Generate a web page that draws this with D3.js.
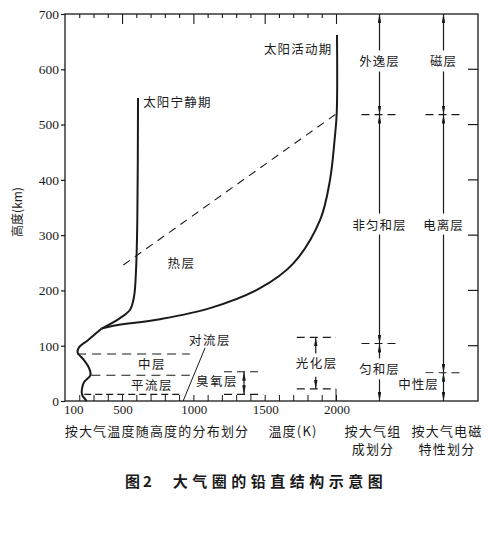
<!DOCTYPE html>
<html><head><meta charset="utf-8">
<script src="https://cdn.jsdelivr.net/npm/d3@7"></script>
<style>body{margin:0;background:#fff}</style>
</head><body><svg id="c" width="500" height="538"></svg>
<script>
// ---- data ----
const heightTicks = [0,100,200,300,400,500,600,700];
const rightFrameTicks = [100,200,300,400,500,600];
const tempLabels = [100,500,1000,1500,2000];
const tempTicks = [200,300,400,500,600,700,800,900,1000,1100,1200,1300,1400,1500,1600,1700,1800,1900,2000];
// [temperature K, height km]
const lowerProfile = [[252,0],[219,12],[219,22],[233,34],[279,47],[268,60],[233,74],[188,88],[198,97],[261,110],[357,131]];
const quietProfile = [[357,131],[486,150],[556,165],[584,189],[598,237],[607,327],[612,548]];
const activeProfile = [[357,131],[439,136],[766,148],[1117,168],[1467,204],[1701,249],[1888,327],[1958,400],[1990,472],[2005,520],[2007,662]];
const thermoDivider = [[509,246],[2005,520]];
// temperature-based boundaries: height, from T, to T
const tempBoundaries = [{h:85,t0:185,t1:975},{h:46.5,t0:285,t1:975},{h:12,t0:235,t1:905}];
const ozone = {top:53, bottom:12, t0:1215, t1:1490, tMid:1355};
const photo = {top:115, bottom:22, t0:1725, t1:2000, tMid:1858};
const tempLayerLabels = [
  {name:"热层", t:917, h:249},
  {name:"中层", t:710, h:65},
  {name:"平流层", t:710, h:27},
  {name:"对流层", t:1117, h:110},
  {name:"臭氧层", t:1166, h:35},
  {name:"光化层", t:1865, h:68}
];
const troposphereLeader = [[1082,96],[928,0]];
const columns = ["组成","电磁"];
const compositionLayers = [{name:"外逸层",lo:518,hi:700,labelH:613},{name:"非匀和层",lo:104,hi:518,labelH:318},{name:"匀和层",lo:0,hi:104,labelH:56}];
const emLayers = [{name:"磁层",lo:518,hi:700,labelH:613},{name:"电离层",lo:51,hi:518,labelH:318},{name:"中性层",lo:0,hi:51,labelH:29}];

// ---- scales ----
const svg = d3.select("#c");
const x = d3.scaleLinear().domain([100,2000]).range([65,336]);
const y = d3.scaleLinear().domain([0,700]).range([401,14]);
const colX = d3.scalePoint().domain(columns).range([379.5,443.5]);
const RIGHT = 478;
const cjk = "'Noto Sans CJK SC', sans-serif";
const serif = "'Liberation Serif', 'DejaVu Serif', serif";
const ink = "#1a1a1a";

const defs = svg.append("defs");
defs.append("marker").attr("id","ah").attr("viewBox","0 0 10 4").attr("refX",10).attr("refY",2)
  .attr("markerWidth",9).attr("markerHeight",3.6).attr("markerUnits","userSpaceOnUse")
  .attr("orient","auto-start-reverse")
  .append("path").attr("d","M0,0 L10,2 L0,4 Z").attr("fill",ink);

const g = svg.append("g");

// frame
g.append("rect").attr("x",x(100)).attr("y",y(700)).attr("width",RIGHT-x(100)).attr("height",y(0)-y(700))
  .attr("fill","none").attr("stroke",ink).attr("stroke-width",1.3);

// left axis
const yAxis = d3.axisLeft(y).tickValues(heightTicks).tickSize(4).tickPadding(2).tickFormat(d3.format("d"));
const ya = g.append("g").attr("transform",`translate(${x(100)},0)`).call(yAxis);
ya.select(".domain").remove();
ya.selectAll("line").attr("stroke",ink).attr("stroke-width",1.2);
ya.selectAll("text").attr("font-family",serif).attr("font-size",13.5).attr("fill",ink);

// top axis ticks (inward)
const topAxis = d3.axisBottom(x).tickValues(tempTicks).tickSize(4).tickFormat("");
const ta = g.append("g").attr("transform",`translate(0,${y(700)})`).call(topAxis);
ta.select(".domain").remove();
ta.selectAll(".tick line").attr("stroke",ink).attr("stroke-width",1.1)
  .attr("y2",d => d%500===0 ? 10 : 4);

// bottom axis ticks (inward) and labels
const botAxis = d3.axisTop(x).tickValues(tempTicks).tickSize(6).tickFormat("");
const ba = g.append("g").attr("transform",`translate(0,${y(0)})`).call(botAxis);
ba.select(".domain").remove();
ba.selectAll(".tick line").attr("stroke",ink).attr("stroke-width",1);
g.selectAll("text.tl").data(tempLabels).join("text").attr("class","tl")
  .attr("x",d => x(d)).attr("y",y(0)+13)
  .attr("text-anchor",d => d===100 ? "start" : "middle")
  .attr("dx",d => d===100 ? -1 : 1)
  .attr("font-family",serif).attr("font-size",13).attr("fill",ink).text(d=>d);

// right frame ticks
g.selectAll("line.rt").data(rightFrameTicks).join("line").attr("class","rt")
  .attr("x1",RIGHT-10).attr("x2",RIGHT).attr("y1",d=>y(d)).attr("y2",d=>y(d))
  .attr("stroke",ink).attr("stroke-width",1.2);

// profiles
const line = d3.line().x(d=>x(d[0])).y(d=>y(d[1])).curve(d3.curveCatmullRom.alpha(0.5));
[lowerProfile, quietProfile, activeProfile].forEach(p => {
  g.append("path").attr("d",line(p)).attr("fill","none").attr("stroke",ink).attr("stroke-width",2);
});
g.append("path").attr("d",d3.line().x(d=>x(d[0])).y(d=>y(d[1]))(thermoDivider))
  .attr("fill","none").attr("stroke",ink).attr("stroke-width",1.1).attr("stroke-dasharray","8,6");

// temperature boundaries
g.selectAll("line.tb").data(tempBoundaries).join("line").attr("class","tb")
  .attr("x1",d=>x(d.t0)).attr("x2",d=>x(d.t1)).attr("y1",d=>y(d.h)).attr("y2",d=>y(d.h))
  .attr("stroke",ink).attr("stroke-width",1.1).attr("stroke-dasharray",(d,i)=> i===2 ? "7,4" : "9,6");

// troposphere leader
g.append("path").attr("d",d3.line().x(d=>x(d[0])).y(d=>y(d[1]))(troposphereLeader))
  .attr("stroke",ink).attr("stroke-width",1).attr("fill","none");

// ozone & photochemical brackets
[ozone, photo].forEach((L,i) => {
  [L.top, L.bottom].forEach(h => {
    g.append("line").attr("x1",x(L.t0)).attr("x2",x(L.t1)).attr("y1",y(h)).attr("y2",y(h))
      .attr("stroke",ink).attr("stroke-width",1.1).attr("stroke-dasharray","8,5");
  });
  if (i===1) {
    g.append("line").attr("x1",x(L.t1)).attr("x2",x(L.t1)).attr("y1",y(L.bottom)).attr("y2",y(0))
      .attr("stroke",ink).attr("stroke-width",1);
    g.append("line").attr("x1",x(L.tMid)).attr("x2",x(L.tMid)).attr("y1",y(L.top)).attr("y2",y(86))
      .attr("stroke",ink).attr("stroke-width",1.2).attr("marker-start","url(#ah)");
    g.append("line").attr("x1",x(L.tMid)).attr("x2",x(L.tMid)).attr("y1",y(44)).attr("y2",y(L.bottom))
      .attr("stroke",ink).attr("stroke-width",1.2).attr("marker-end","url(#ah)");
  } else {
    g.append("line").attr("x1",x(L.tMid)).attr("x2",x(L.tMid)).attr("y1",y(L.top)).attr("y2",y(L.bottom))
      .attr("stroke",ink).attr("stroke-width",1.2).attr("marker-start","url(#ah)").attr("marker-end","url(#ah)");
  }
});

// layer labels in temperature region
g.selectAll("text.ll").data(tempLayerLabels).join("text").attr("class","ll")
  .attr("x",d=>x(d.t)).attr("y",d=>y(d.h)).attr("dy","0.35em").attr("text-anchor","middle")
  .attr("font-family",cjk).attr("font-size",12.5).attr("fill",ink).attr("letter-spacing",1.5).text(d=>d.name);

// period labels
g.append("text").attr("x",x(648)).attr("y",y(539)).attr("dy","0.35em")
  .attr("font-family",cjk).attr("font-size",12.5).attr("fill",ink).attr("letter-spacing",1.2).text("太阳宁静期");
g.append("text").attr("x",x(1975)).attr("y",y(635)).attr("dy","0.35em").attr("text-anchor","end")
  .attr("font-family",cjk).attr("font-size",12.5).attr("fill",ink).attr("letter-spacing",1.2).text("太阳活动期");

// classification columns
function drawColumn(col, layers) {
  const cx = colX(col);
  layers.forEach(L => {
    g.append("line").attr("x1",cx).attr("x2",cx).attr("y1",y(L.hi)).attr("y2",y(L.lo))
      .attr("stroke",ink).attr("stroke-width",1.2)
      .attr("marker-start","url(#ah)").attr("marker-end","url(#ah)");
  });
  layers.slice(0,-1).forEach(L => {
    g.append("line").attr("x1",cx-18).attr("x2",cx+21).attr("y1",y(L.lo)).attr("y2",y(L.lo))
      .attr("stroke",ink).attr("stroke-width",1.1).attr("stroke-dasharray","8,5");
  });
  layers.forEach((L,i) => {
    const off = (col==="电磁" && i===layers.length-1) ? -25 : 0;
    const t = g.append("text").attr("x",cx+off).attr("y",y(L.labelH)).attr("dy","0.35em").attr("text-anchor","middle")
      .attr("font-family",cjk).attr("font-size",12.5).attr("fill",ink).attr("letter-spacing",1).text(L.name);
    const b = t.node().getBBox();
    g.insert("rect", () => t.node()).attr("x",b.x-1).attr("y",b.y-1).attr("width",b.width+2).attr("height",b.height+2).attr("fill","#fff");
  });
}
drawColumn("组成", compositionLayers);
drawColumn("电磁", emLayers);

// axis titles
svg.append("text").attr("transform","translate(22,212) rotate(-90)").attr("text-anchor","middle")
  .attr("font-family",cjk).attr("font-size",12).attr("fill",ink).text("高度(km)");
const bottomTitles = [
  {lines:["按大气温度随高度的分布划分"], cx:157},
  {lines:["温度(K)"], cx:293},
  {lines:["按大气组","成划分"], cx:373},
  {lines:["按大气电磁","特性划分"], cx:447}
];
bottomTitles.forEach(bt => {
  bt.lines.forEach((s,i) => {
    svg.append("text").attr("x",bt.cx).attr("y",436+i*18).attr("text-anchor","middle")
      .attr("font-family",cjk).attr("font-size",13).attr("fill",ink).attr("letter-spacing",1.2).text(s);
  });
});
svg.append("text").attr("x",140).attr("y",487).attr("text-anchor","middle")
  .attr("font-family",cjk).attr("font-size",15).attr("font-weight",700).attr("fill",ink).attr("letter-spacing",3).text("图2");
svg.append("text").attr("x",280).attr("y",487).attr("text-anchor","middle")
  .attr("font-family",cjk).attr("font-size",15).attr("font-weight",700).attr("fill",ink).attr("letter-spacing",4.5).text("大气圈的铅直结构示意图");
</script></body></html>
